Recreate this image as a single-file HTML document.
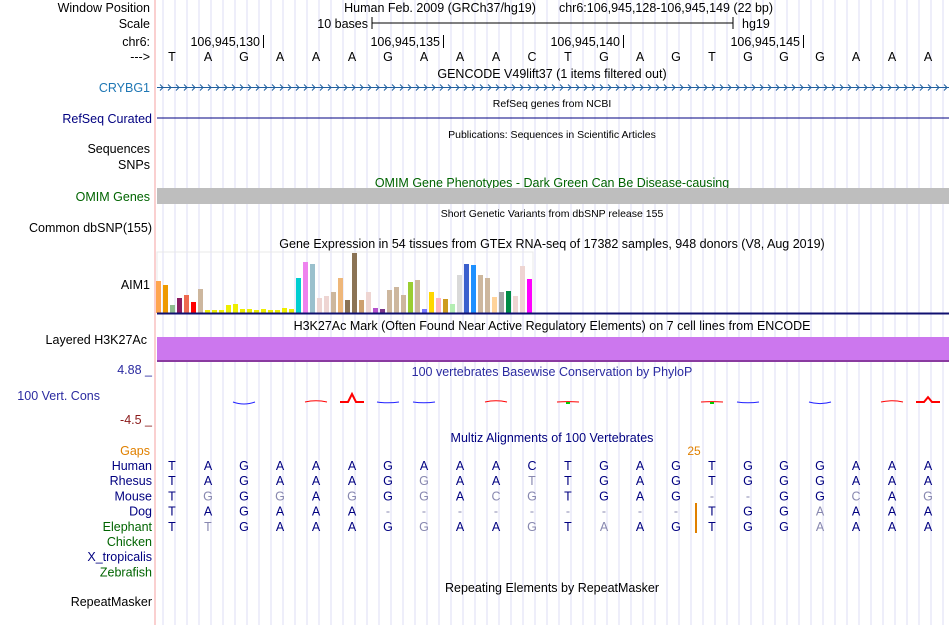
<!DOCTYPE html>
<html><head><meta charset="utf-8"><style>
body{margin:0;background:#fff;width:950px;height:625px;overflow:hidden;font-family:"Liberation Sans",sans-serif}
svg text{font-family:"Liberation Sans",sans-serif}
</style></head><body>
<svg id="c" width="950" height="625" xmlns="http://www.w3.org/2000/svg">
<g id="grid"></g>
<line x1="155" y1="0" x2="155" y2="625" stroke="#f4a0a0"/>
<g font-size="12.5" text-anchor="end">
<text x="150" y="12">Window Position</text>
<text x="150" y="28">Scale</text>
<text x="150" y="46">chr6:</text>
<text x="150" y="61">---&gt;</text>
<text x="150" y="92" fill="#1f77b4">CRYBG1</text>
<text x="152" y="123" fill="#000080">RefSeq Curated</text>
<text x="150" y="153">Sequences</text>
<text x="150" y="169">SNPs</text>
<text x="150" y="201" fill="#006400">OMIM Genes</text>
<text x="152" y="232">Common dbSNP(155)</text>
<text x="150" y="289">AIM1</text>
<text x="147" y="344">Layered H3K27Ac</text>
<text x="152" y="374" fill="#2a2aa0">4.88 _</text>
<text x="100" y="400" fill="#2a2aa0">100 Vert. Cons</text>
<text x="152" y="424" fill="#8b1a1a">-4.5 _</text>
<text x="150" y="455" fill="#e08000">Gaps</text>
<text x="152" y="606">RepeatMasker</text>
</g>
<g id="species" font-size="12.5" text-anchor="end" fill="#000080"></g>
<g font-size="12.5" text-anchor="middle">
<text x="440" y="12">Human Feb. 2009 (GRCh37/hg19)</text>
<text x="666" y="12">chr6:106,945,128-106,945,149 (22 bp)</text>
<text x="552" y="78">GENCODE V49lift37 (1 items filtered out)</text>
<text x="552" y="107" font-size="10.5">RefSeq genes from NCBI</text>
<text x="552" y="138" font-size="10.5">Publications: Sequences in Scientific Articles</text>
<text x="552" y="187" fill="#006400">OMIM Gene Phenotypes - Dark Green Can Be Disease-causing</text>
<text x="552" y="217" font-size="10.5">Short Genetic Variants from dbSNP release 155</text>
<text x="552" y="248">Gene Expression in 54 tissues from GTEx RNA-seq of 17382 samples, 948 donors (V8, Aug 2019)</text>
<text x="552" y="330">H3K27Ac Mark (Often Found Near Active Regulatory Elements) on 7 cell lines from ENCODE</text>
<text x="552" y="376" fill="#2a2aa0">100 vertebrates Basewise Conservation by PhyloP</text>
<text x="552" y="442" fill="#000080">Multiz Alignments of 100 Vertebrates</text>
<text x="552" y="592">Repeating Elements by RepeatMasker</text>
</g>
<g>
<text x="368" y="28" font-size="12.5" text-anchor="end">10 bases</text>
<line x1="372" y1="23" x2="733" y2="23" stroke="#000"/>
<line x1="372" y1="17" x2="372" y2="29" stroke="#000"/>
<line x1="733" y1="17" x2="733" y2="29" stroke="#000"/>
<text x="742" y="28" font-size="12.5">hg19</text>
</g>
<g id="coords" font-size="12.5" text-anchor="end"></g>
<g id="bases" font-size="12.5" text-anchor="middle"></g>
<g id="gene"></g>
<line x1="157" y1="118" x2="949" y2="118" stroke="#000080"/>
<rect x="157" y="188" width="792" height="16" fill="#bebebe"/>
<rect x="157" y="252" width="376" height="61" fill="none" stroke="#e8e8e8"/>
<g id="gtex"></g>
<line x1="157" y1="313.5" x2="949" y2="313.5" stroke="#101070" stroke-width="2"/>
<rect x="157" y="337" width="792" height="24" fill="#cc77ee"/>
<line x1="157" y1="361" x2="949" y2="361" stroke="#8a3aa0" stroke-width="2"/>
<g id="cons"></g>
<text x="694" y="455" font-size="12" fill="#e08000" text-anchor="middle">25</text>
<g id="mz" font-size="12.5" text-anchor="middle"></g>
<line x1="696" y1="503" x2="696" y2="533" stroke="#e08000" stroke-width="2"/>
</svg>
<script>
const bases = "TAGAAAGAAACTGAGTGGGAAA";
const speciesNames = ["Human","Rhesus","Mouse","Dog","Elephant","Chicken","X_tropicalis","Zebrafish"];
const speciesColors = ["#000080","#000080","#000080","#000080","#006400","#006400","#000080","#006400"];
const alignRows = ["TAGAAAGAAACTGAGTGGGAAA","TAGAAAGgAAtTGAGTGGGAAA","TgGgAgGgAcgTGAG--GGcAg","TAGAAA---------TGGaAAA","TtGAAAGgAAgTaAGTGGaAAA"];
const gtexValues = [32,28,8,15,18,11,24,3,3,3,8,9,4,4,3,4,3,3,5,4,35,51,49,15,17,21,35,13,60,13,21,5,4,23,26,18,31,33,4,21,15,14,9,38,49,48,38,35,16,21,22,17,47,34];
const gtexColors = ["#FFA54F","#EE9A00","#8FBC8F","#8B1C62","#EE6A50","#FF0000","#CDB79E","#EEEE00","#EEEE00","#EEEE00","#EEEE00","#EEEE00","#EEEE00","#EEEE00","#EEEE00","#EEEE00","#EEEE00","#EEEE00","#EEEE00","#EEEE00","#00CED1","#EE82EE","#9AC0CD","#EED5D2","#EED5D2","#CDB79E","#EEB77A","#8B7355","#8B7355","#CDA06E","#EED5D2","#B452CD","#7A378B","#CDB79E","#CDB79E","#CDB79E","#9ACD32","#CDB79E","#7777FF","#FFD700","#FFB6C1","#CD9B1D","#B4EEB4","#D9D9D9","#3A5FCD","#1E90FF","#CDB79E","#CDB79E","#FFD39B","#A6A6A6","#008B45","#EED5D2","#EED5D2","#FF00FF"];
const coordLabels = ["106,945,130","106,945,135","106,945,140","106,945,145"];
const coordBase = [2,7,12,17];
const consValues = [0,0,-0.5,0,0.3,2.0,-0.2,-0.2,0,0.3,0,0.1,0,0,0,0.1,-0.2,0,-0.4,0,0.3,1.2];
const NS="http://www.w3.org/2000/svg";
const x = i => 172 + 36*i;
const gtexY = v => 313 - v;
const consY = v => 402 - v*4;
function mk(tag, attrs, parent, txt){const e=document.createElementNS(NS,tag);for(const k in attrs)e.setAttribute(k,attrs[k]);if(txt!==undefined)e.textContent=txt;parent.appendChild(e);return e;}
const grid=document.getElementById('grid');
for(let gx=163;gx<950;gx+=12){const l=mk('line',{x1:gx,y1:0,x2:gx,y2:625,stroke:'#dcdcf6'},grid);

}
const bg=document.getElementById('bases');
for(let i=0;i<bases.length;i++){const t=mk('text',{x:x(i),y:61},bg,bases[i]);

}
const cg=document.getElementById('coords');
coordLabels.forEach((c,k)=>{
const t=mk('text',{x:x(coordBase[k])+16,y:46},cg,c);


const l=mk('line',{x1:x(coordBase[k])+19.5,y1:35,x2:x(coordBase[k])+19.5,y2:48,stroke:'#000'},cg);

});
const gene=document.getElementById('gene');
mk('line',{x1:157,y1:87.5,x2:949,y2:87.5,stroke:'#1f5f9f'},gene);
for(let ax=160;ax<948;ax+=8){mk('path',{d:`M${ax},84.5 L${ax+3},87.5 L${ax},90.5`,stroke:'#1f5f9f',fill:'none'},gene);}
const gt=document.getElementById('gtex');
gtexValues.forEach((v,i)=>{const r=mk('rect',{x:156+i*7,y:gtexY(v),width:5,height:v,fill:gtexColors[i]},gt);

});
const cs=document.getElementById('cons');
consValues.forEach((v,i)=>{if(v===0)return;
const big=Math.abs(v)>1;const w=big?12:11;const col=v>0?'#ff0000':'#2020ff';
const d=big?`M${x(i)-w},402 L${x(i)-4},402 L${x(i)},${consY(v)} L${x(i)+4},402 L${x(i)+w},402`:`M${x(i)-w},402 Q${x(i)},${2*consY(v)-402} ${x(i)+w},402`;
const p=mk('path',{d:d,stroke:col,'stroke-width':big?2:1,fill:'none'},cs);

});
[11,15].forEach(i=>{const g=mk('rect',{x:x(i)-2,y:402,width:4,height:2,fill:'#00cc00'},cs);

});
const sp=document.getElementById('species');
speciesNames.forEach((n,k)=>{const t=mk('text',{x:152,y:470+15.2*k,fill:speciesColors[k]},sp,n);

});
const mz=document.getElementById('mz');
alignRows.forEach((row,k)=>{for(let i=0;i<row.length;i++){const ch=row[i];const gray=ch!==ch.toUpperCase()||ch==='-';
const t=mk('text',{x:x(i),y:470+15.2*k,fill:gray?'#8888b0':'#000080'},mz,ch.toUpperCase());

}});
</script>
</body></html>
